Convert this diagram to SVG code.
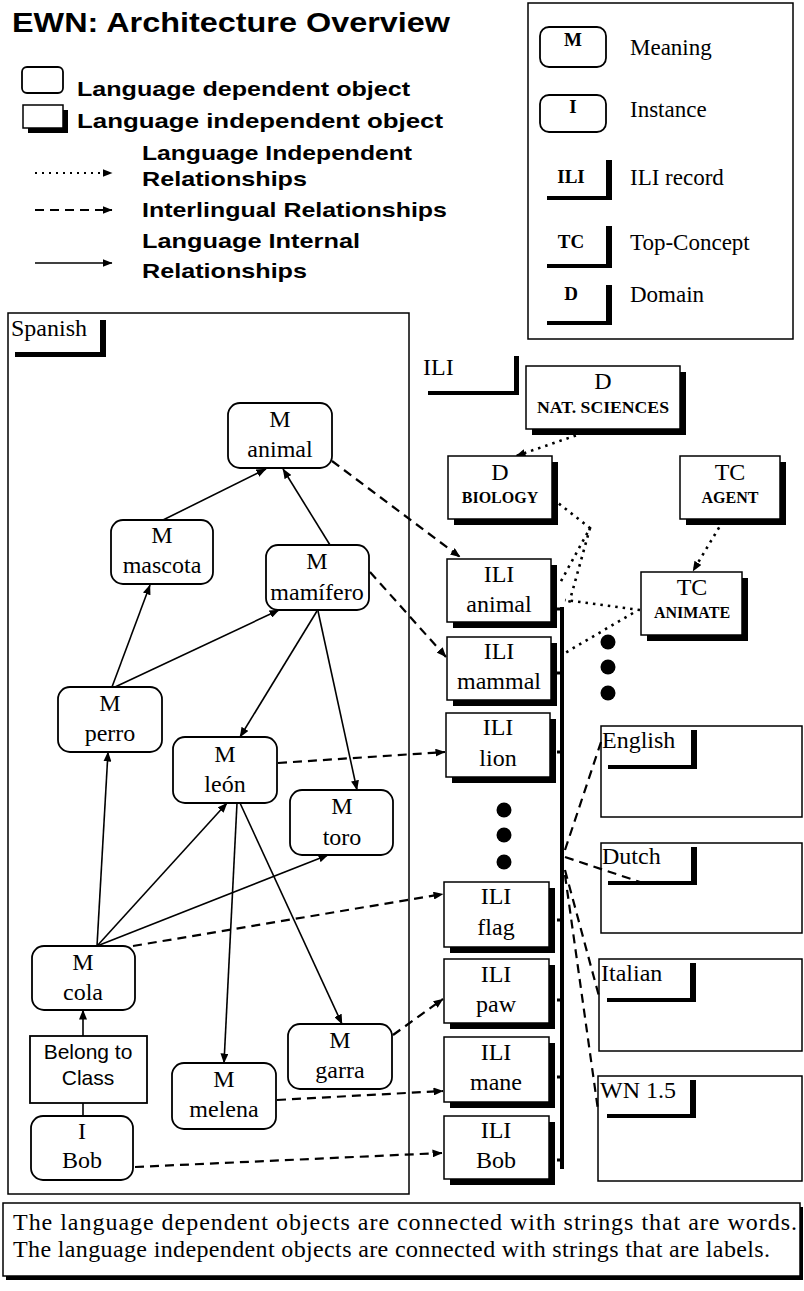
<svg xmlns="http://www.w3.org/2000/svg" width="804" height="1291" viewBox="0 0 804 1291">
<defs>
<marker id="ah" markerWidth="10" markerHeight="8" refX="9.5" refY="4" orient="auto" markerUnits="userSpaceOnUse"><path d="M0,0 L10,4 L0,8 z" fill="#000"/></marker>
</defs>
<style>
.bg{fill:#fff}
.ld{fill:#fff;stroke:#000;stroke-width:1.8}
.li{fill:#fff;stroke:#000;stroke-width:1.5}
.sh{fill:#000}
.frame{fill:none;stroke:#000;stroke-width:1.5}
.t{font-family:"Liberation Serif","Times New Roman",serif;font-size:24px;text-anchor:middle;fill:#000}
.tl{font-family:"Liberation Serif","Times New Roman",serif;font-size:23px;fill:#000}
.sc{font-family:"Liberation Serif","Times New Roman",serif;font-size:16px;font-weight:bold;text-anchor:middle;fill:#000}
.lb{font-family:"Liberation Sans",Arial,sans-serif;font-weight:bold;font-size:21px;fill:#000}
.ss{font-family:"Liberation Sans",Arial,sans-serif;font-size:21px;text-anchor:middle;fill:#000}
.sol{stroke:#000;stroke-width:1.6;fill:none;marker-end:url(#ah)}
.dsh{stroke:#000;stroke-width:2.2;stroke-dasharray:9 6;fill:none}
.dot{stroke:#000;stroke-width:2.6;stroke-dasharray:2.5 5;fill:none}
.arr{marker-end:url(#ah)}
</style>
<rect class="bg" x="0" y="0" width="804" height="1291"/>

<g id="title">
<text class="lb" x="12" y="32" font-size="27" style="font-size:27px" textLength="438" lengthAdjust="spacingAndGlyphs">EWN: Architecture Overview</text>
</g>

<g id="legend-left">
<rect class="ld" x="22" y="67" width="41" height="26" rx="5"/>
<text class="lb" x="77" y="96" textLength="333" lengthAdjust="spacingAndGlyphs">Language dependent object</text>
<rect class="sh" x="28" y="110" width="40" height="23"/>
<rect class="li" x="23" y="105" width="40" height="23"/>
<text class="lb" x="77" y="128" textLength="366" lengthAdjust="spacingAndGlyphs">Language independent object</text>
<line class="dot arr" x1="35" y1="173" x2="112" y2="173" style="stroke-width:2;stroke-dasharray:2 5"/>
<text class="lb" x="142" y="160" textLength="270" lengthAdjust="spacingAndGlyphs">Language Independent</text>
<text class="lb" x="142" y="186" textLength="165" lengthAdjust="spacingAndGlyphs">Relationships</text>
<line class="dsh arr" x1="35" y1="210" x2="112" y2="210" style="stroke-width:2"/>
<text class="lb" x="142" y="217" textLength="305" lengthAdjust="spacingAndGlyphs">Interlingual Relationships</text>
<line class="sol" x1="35" y1="263" x2="112" y2="263"/>
<text class="lb" x="142" y="248" textLength="218" lengthAdjust="spacingAndGlyphs">Language Internal</text>
<text class="lb" x="142" y="278" textLength="165" lengthAdjust="spacingAndGlyphs">Relationships</text>
</g>

<g id="legend-right">
<rect class="frame" x="528" y="3" width="265" height="336"/>
<rect class="ld" x="540" y="27" width="66" height="40" rx="9"/>
<text class="t" x="573" y="46" style="font-size:19px;font-weight:bold">M</text>
<text class="tl" x="630" y="55">Meaning</text>
<rect class="ld" x="540" y="95" width="66" height="37" rx="9"/>
<text class="t" x="573" y="113" style="font-size:19px;font-weight:bold">I</text>
<text class="tl" x="630" y="117">Instance</text>
<text class="t" x="571" y="183" style="font-size:19px;font-weight:bold">ILI</text>
<rect class="sh" x="606" y="160" width="6" height="40"/>
<rect class="sh" x="547" y="196" width="65" height="4"/>
<text class="tl" x="630" y="185">ILI record</text>
<text class="t" x="571" y="248" style="font-size:19px;font-weight:bold">TC</text>
<rect class="sh" x="606" y="226" width="6" height="42"/>
<rect class="sh" x="547" y="264" width="65" height="4"/>
<text class="tl" x="630" y="250">Top-Concept</text>
<text class="t" x="571" y="300" style="font-size:19px;font-weight:bold">D</text>
<rect class="sh" x="606" y="285" width="6" height="40"/>
<rect class="sh" x="547" y="321" width="65" height="4"/>
<text class="tl" x="630" y="302">Domain</text>
</g>

<g id="spanish">
<rect class="frame" x="8" y="313" width="401" height="881"/>
<text class="tl" x="11" y="336" style="font-size:24px">Spanish</text>
<rect class="sh" x="100" y="320" width="6" height="37"/>
<rect class="sh" x="15" y="352" width="91" height="5"/>
</g>

<g id="ili-label">
<text class="tl" x="423" y="375" style="font-size:24px">ILI</text>
<rect class="sh" x="514" y="356" width="5" height="39"/>
<rect class="sh" x="428" y="391" width="91" height="4"/>
</g>

<g id="connectors">
<!-- language internal -->
<path class="sol" d="M163,520 L266,469"/>
<path class="sol" d="M330,545 L283,469"/>
<path class="sol" d="M112,687 L150,585"/>
<path class="sol" d="M115,687 L279,610"/>
<path class="sol" d="M317,611 L240,737"/>
<path class="sol" d="M318,611 L357,790"/>
<path class="sol" d="M97,946 L108,752"/>
<path class="sol" d="M97,946 L227,803"/>
<path class="sol" d="M97,946 L328,855"/>
<path class="sol" d="M237,803 L224,1063"/>
<path class="sol" d="M240,803 L342,1024"/>
<path class="sol" d="M83,1036 L83,1010"/>
<path d="M83,1103 L83,1116" stroke="#000" stroke-width="1.6"/>
<!-- interlingual -->
<path class="dsh arr" d="M320,452 L460,557"/>
<path class="dsh arr" d="M370,572 L446,657"/>
<path class="dsh arr" d="M278,763 L445,752"/>
<path class="dsh arr" d="M133,946 L443,894"/>
<path class="dsh arr" d="M393,1035 L443,999"/>
<path class="dsh arr" d="M277,1100 L443,1091"/>
<path class="dsh arr" d="M135,1167 L442,1153"/>
<!-- bus to wordnets -->
<path class="dsh" d="M565,850 L601,742"/>
<path class="dsh" d="M565,857 L640,882"/>
<path class="dsh" d="M565,870 L600,1000"/>
<path class="dsh" d="M565,875 L598,1110"/>
<!-- language independent -->
<path class="dot arr" d="M583,433 L516,456"/>
<path class="dot arr" d="M723,521 L693,571"/>
<path class="dot" d="M553,499 L590,528 L560,583"/>
<path class="dot" d="M590,528 L568,607"/>
<path class="dot" d="M640,610 L565,600"/>
<path class="dot" d="M633,613 L565,653"/>
<!-- ILI bus -->
<path d="M562,607 L562,1169" stroke="#000" stroke-width="4" fill="none"/>
<path d="M557,609 H562 M557,673 H562 M557,752 H562 M557,920 H562 M557,1000 H562 M557,1077 H562 M557,1160 H562" stroke="#000" stroke-width="3" fill="none"/>
</g>

<g id="n-animal"><rect class="ld" x="228" y="403" width="104" height="65" rx="12"/><text class="t" x="280" y="427">M</text><text class="t" x="280" y="457">animal</text></g>
<g id="n-mascota"><rect class="ld" x="111" y="520" width="102" height="64" rx="12"/><text class="t" x="162" y="543">M</text><text class="t" x="162" y="573">mascota</text></g>
<g id="n-mamifero"><rect class="ld" x="266" y="545" width="103" height="65" rx="12"/><text class="t" x="317" y="569">M</text><text class="t" x="317" y="600">mamífero</text></g>
<g id="n-perro"><rect class="ld" x="58" y="687" width="104" height="65" rx="12"/><text class="t" x="110" y="711">M</text><text class="t" x="110" y="741">perro</text></g>
<g id="n-leon"><rect class="ld" x="173" y="737" width="104" height="66" rx="12"/><text class="t" x="225" y="762">M</text><text class="t" x="225" y="792">león</text></g>
<g id="n-toro"><rect class="ld" x="290" y="790" width="103" height="65" rx="12"/><text class="t" x="342" y="814">M</text><text class="t" x="342" y="845">toro</text></g>
<g id="n-cola"><rect class="ld" x="32" y="946" width="103" height="64" rx="12"/><text class="t" x="83" y="970">M</text><text class="t" x="83" y="1000">cola</text></g>
<g id="n-belong"><rect class="ld" x="30" y="1036" width="117" height="67"/><text class="ss" x="88" y="1059">Belong to</text><text class="ss" x="88" y="1085">Class</text></g>
<g id="n-bob"><rect class="ld" x="31" y="1116" width="102" height="64" rx="12"/><text class="t" x="82" y="1139">I</text><text class="t" x="82" y="1168">Bob</text></g>
<g id="n-melena"><rect class="ld" x="172" y="1063" width="104" height="66" rx="12"/><text class="t" x="224" y="1087">M</text><text class="t" x="224" y="1117">melena</text></g>
<g id="n-garra"><rect class="ld" x="288" y="1024" width="104" height="65" rx="12"/><text class="t" x="340" y="1048">M</text><text class="t" x="340" y="1078">garra</text></g>

<g id="d-natsci"><rect class="sh" x="532" y="372" width="154" height="63"/><rect class="li" x="526" y="366" width="154" height="63"/><text class="t" x="603" y="389">D</text><text class="sc" x="603" y="413" textLength="132" lengthAdjust="spacingAndGlyphs">NAT. SCIENCES</text></g>
<g id="d-biology"><rect class="sh" x="454" y="462" width="104" height="63"/><rect class="li" x="448" y="456" width="104" height="63"/><text class="t" x="500" y="480">D</text><text class="sc" x="500" y="503">BIOLOGY</text></g>
<g id="tc-agent"><rect class="sh" x="686" y="462" width="100" height="63"/><rect class="li" x="680" y="456" width="100" height="63"/><text class="t" x="730" y="480">TC</text><text class="sc" x="730" y="503">AGENT</text></g>
<g id="tc-animate"><rect class="sh" x="647" y="578" width="101" height="63"/><rect class="li" x="641" y="572" width="101" height="63"/><text class="t" x="692" y="595">TC</text><text class="sc" x="692" y="618">ANIMATE</text></g>

<g id="ili-animal"><rect class="sh" x="453" y="565" width="104" height="63"/><rect class="li" x="447" y="559" width="104" height="63"/><text class="t" x="499" y="582">ILI</text><text class="t" x="499" y="612">animal</text></g>
<g id="ili-mammal"><rect class="sh" x="453" y="643" width="104" height="63"/><rect class="li" x="447" y="637" width="104" height="63"/><text class="t" x="499" y="659">ILI</text><text class="t" x="499" y="689">mammal</text></g>
<g id="ili-lion"><rect class="sh" x="452" y="719" width="104" height="64"/><rect class="li" x="446" y="713" width="104" height="64"/><text class="t" x="498" y="735">ILI</text><text class="t" x="498" y="766">lion</text></g>
<g id="ili-flag"><rect class="sh" x="450" y="888" width="105" height="65"/><rect class="li" x="444" y="882" width="105" height="65"/><text class="t" x="496" y="904">ILI</text><text class="t" x="496" y="935">flag</text></g>
<g id="ili-paw"><rect class="sh" x="450" y="965" width="105" height="64"/><rect class="li" x="444" y="959" width="105" height="64"/><text class="t" x="496" y="982">ILI</text><text class="t" x="496" y="1012">paw</text></g>
<g id="ili-mane"><rect class="sh" x="450" y="1043" width="105" height="65"/><rect class="li" x="444" y="1037" width="105" height="65"/><text class="t" x="496" y="1060">ILI</text><text class="t" x="496" y="1090">mane</text></g>
<g id="ili-bob"><rect class="sh" x="450" y="1122" width="105" height="63"/><rect class="li" x="444" y="1116" width="105" height="63"/><text class="t" x="496" y="1138">ILI</text><text class="t" x="496" y="1168">Bob</text></g>

<g id="ellipsis-right"><circle cx="608" cy="642" r="7.5"/><circle cx="608" cy="667" r="7.5"/><circle cx="608" cy="693" r="7.5"/></g>
<g id="ellipsis-mid"><circle cx="504" cy="810" r="7.5"/><circle cx="504" cy="835" r="7.5"/><circle cx="504" cy="862" r="7.5"/></g>

<g id="wn-english"><rect class="frame" x="601" y="726" width="201" height="91"/><text class="tl" x="602" y="748" style="font-size:24px">English</text><rect class="sh" x="691" y="730" width="6" height="39"/><rect class="sh" x="608" y="765" width="89" height="4"/></g>
<g id="wn-dutch"><rect class="frame" x="601" y="843" width="201" height="90"/><text class="tl" x="602" y="864" style="font-size:24px">Dutch</text><rect class="sh" x="691" y="847" width="6" height="38"/><rect class="sh" x="608" y="881" width="89" height="4"/></g>
<g id="wn-italian"><rect class="frame" x="599" y="959" width="203" height="92"/><text class="tl" x="601" y="981" style="font-size:24px">Italian</text><rect class="sh" x="690" y="963" width="6" height="39"/><rect class="sh" x="607" y="998" width="89" height="4"/></g>
<g id="wn-wn15"><rect class="frame" x="598" y="1076" width="204" height="105"/><text class="tl" x="600" y="1098" style="font-size:24px">WN 1.5</text><rect class="sh" x="690" y="1080" width="6" height="38"/><rect class="sh" x="607" y="1114" width="89" height="4"/></g>

<g id="note">
<rect class="sh" x="6" y="1207" width="797" height="73"/>
<rect class="li" x="3" y="1203" width="797" height="73"/>
<text class="tl" x="13" y="1230" style="font-size:24px" textLength="784" lengthAdjust="spacing">The language dependent objects are connected with strings that are words.</text>
<text class="tl" x="13" y="1257" style="font-size:24px" textLength="757" lengthAdjust="spacing">The language independent objects are connected with strings that are labels.</text>
</g>
</svg>
